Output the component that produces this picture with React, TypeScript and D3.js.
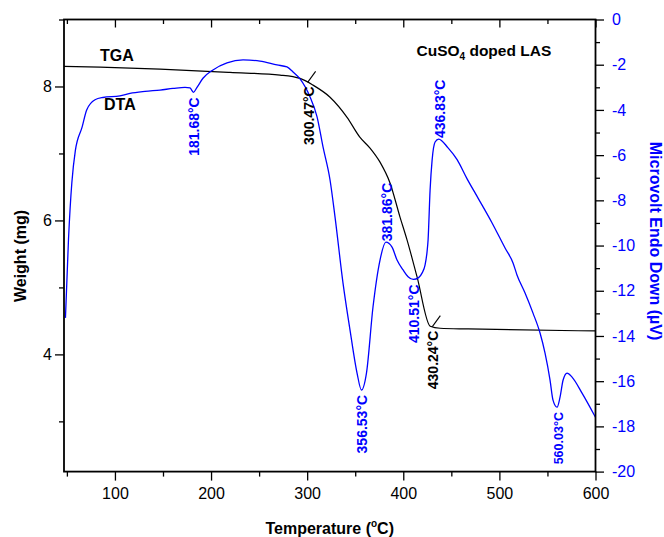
import { useEffect, useRef } from "react";
import * as d3 from "d3";

// DTA curve (microvolt, right axis)
const dtaTemp = [
  48.5, 51.7, 55.2, 58.8, 65.9, 70.6, 79.3, 87.6, 105.2, 115.7, 131.3, 146.9,
  160.4, 172.9, 178.1, 181.7, 185.4, 191.6, 202.0, 216.6, 233.3, 250.9, 268.6,
  279.0, 285.3, 292.6, 303.0, 310.3, 316.5, 323.8, 329.0, 337.3, 344.6, 351.9,
  356.5, 361.7, 368.5, 375.8, 381.9, 388.3, 393.5, 399.8, 405.0, 410.5, 416.0,
  419.5, 422.7, 424.7, 425.8, 427.9, 430.0, 433.1, 436.8, 446.6, 456.0, 466.4,
  477.8, 492.4, 505.9, 514.2, 518.4, 526.7, 535.0, 542.3, 547.5, 552.7, 555.8,
  560.0, 563.1, 566.3, 570.4, 575.6, 586.0, 600.0,
];
const dtaSignal = [
  -13.2, -9.7, -7.2, -5.8, -4.75, -4.0, -3.55, -3.45, -3.38, -3.27, -3.18, -3.12,
  -3.05, -3.0, -3.03, -3.22, -3.0, -2.6, -2.23, -1.92, -1.79, -1.84, -2.01,
  -2.1, -2.32, -2.63, -3.43, -4.31, -5.64, -7.1, -8.74, -11.66, -13.74, -15.64,
  -16.39, -15.64, -12.72, -10.64, -9.85, -10.07, -10.64, -11.08, -11.38, -11.5,
  -11.42, -11.22, -10.86, -10.29, -9.76, -7.54, -6.22, -5.42, -5.29, -5.68,
  -6.2, -7.05, -7.9, -9.0, -10.11, -10.77, -11.31, -12.1, -12.99, -13.87,
  -14.76, -15.95, -16.84, -17.15, -16.71, -15.95, -15.64, -15.82, -16.53, -17.6,
];

// TGA curve (mg, left axis)
const tgaTemp = [
  47, 84.5, 146.9, 219.7, 271.8, 292.6, 306.1, 323.8, 341.5, 355.0, 365.4,
  375.8, 386.2, 396.6, 403.9, 414.3, 428.0, 438.3, 467.4, 600,
];
const tgaWeight = [
  8.3, 8.29, 8.26, 8.21, 8.17, 8.12, 8.02, 7.84, 7.54, 7.24, 7.08, 6.87, 6.56,
  6.05, 5.71, 5.16, 4.42, 4.39, 4.38, 4.35,
];

const tempTicks = [100, 200, 300, 400, 500, 600];
const tempMinor = [50, 150, 250, 350, 450, 550];
const weightTicks = [4, 6, 8];
const weightMinor = [3, 5, 7, 9];
const signalTicks = [0, -2, -4, -6, -8, -10, -12, -14, -16, -18, -20];
const signalMinor = [-1, -3, -5, -7, -9, -11, -13, -15, -17, -19];

// DTA peaks and which side of the curve their label sits
const peakTemps = [181.68, 356.53, 381.86, 410.51, 436.83, 560.03];
const peakSide = ["below", "below", "above", "below", "above", "below"];
// TGA onset points
const onsetTemps = [300.47, 430.24];

function interp(xs: number[], ys: number[], t: number) {
  const i = d3.bisectLeft(xs, t);
  if (i <= 0) return ys[0];
  if (i >= xs.length) return ys[ys.length - 1];
  const f = (t - xs[i - 1]) / (xs[i] - xs[i - 1]);
  return ys[i - 1] + f * (ys[i] - ys[i - 1]);
}

export default function App() {
  const ref = useRef<SVGSVGElement>(null);

  useEffect(() => {
    if (!ref.current) return;
    const svg = d3.select(ref.current);
    svg.selectAll("*").remove();

    const width = 664,
      height = 537;
    const left = 64,
      right = 595.5,
      top = 19.5,
      bottom = 471.6;
    const font = "'Liberation Sans', Arial, Helvetica, sans-serif";
    const blue = "#0000ff";

    svg.attr("width", width).attr("height", height);

    const x = d3.scaleLinear().domain([47, 600]).range([left, right]);
    const yW = d3.scaleLinear().domain([2.25, 9]).range([bottom, top]);
    const yV = d3.scaleLinear().domain([-20, 0]).range([bottom, top]);

    const styleAxis = (g: any, color = "#000") => {
      g.select(".domain").remove();
      g.selectAll("line").attr("stroke", "#000").attr("stroke-width", 1.3);
      g.selectAll("text")
        .attr("font-family", font)
        .attr("font-size", 16)
        .attr("fill", color);
    };
    const noLabel = () => "";
    const plain = (d: any) => String(d);

    // bottom axis
    svg
      .append("g")
      .attr("transform", `translate(0,${bottom})`)
      .call(d3.axisBottom(x).tickValues(tempTicks).tickSize(9).tickPadding(7).tickFormat(plain))
      .call(styleAxis);
    svg
      .append("g")
      .attr("transform", `translate(0,${bottom})`)
      .call(d3.axisBottom(x).tickValues(tempMinor).tickSize(5).tickFormat(noLabel))
      .call(styleAxis);

    // top axis, ticks pointing inward
    svg
      .append("g")
      .attr("transform", `translate(0,${top})`)
      .call(d3.axisTop(x).tickValues(tempTicks).tickSize(-8).tickFormat(noLabel))
      .call(styleAxis);
    svg
      .append("g")
      .attr("transform", `translate(0,${top})`)
      .call(d3.axisTop(x).tickValues(tempMinor).tickSize(-4.5).tickFormat(noLabel))
      .call(styleAxis);

    // left axis (weight)
    svg
      .append("g")
      .attr("transform", `translate(${left},0)`)
      .call(d3.axisLeft(yW).tickValues(weightTicks).tickSize(9).tickPadding(3).tickFormat(plain))
      .call(styleAxis);
    svg
      .append("g")
      .attr("transform", `translate(${left},0)`)
      .call(d3.axisLeft(yW).tickValues(weightMinor).tickSize(5).tickFormat(noLabel))
      .call(styleAxis);

    // right axis (microvolt)
    svg
      .append("g")
      .attr("transform", `translate(${right},0)`)
      .call(
        d3
          .axisRight(yV)
          .tickValues(signalTicks)
          .tickSize(8.5)
          .tickPadding(8)
          .tickFormat(plain)
      )
      .call((g: any) => styleAxis(g, blue));
    svg
      .append("g")
      .attr("transform", `translate(${right},0)`)
      .call(d3.axisRight(yV).tickValues(signalMinor).tickSize(4.5).tickFormat(noLabel))
      .call(styleAxis);

    // clip for curves
    svg
      .append("defs")
      .append("clipPath")
      .attr("id", "plotClip")
      .append("rect")
      .attr("x", left)
      .attr("y", top)
      .attr("width", right - left)
      .attr("height", bottom - top);

    const tgaLine = d3
      .line<number>()
      .x((d, i) => x(tgaTemp[i]))
      .y((d) => yW(d))
      .curve(d3.curveMonotoneX);
    const dtaLine = d3
      .line<number>()
      .x((d, i) => x(dtaTemp[i]))
      .y((d) => yV(d))
      .curve(d3.curveMonotoneX);

    const plot = svg.append("g").attr("clip-path", "url(#plotClip)");
    plot
      .append("path")
      .attr("d", tgaLine(tgaWeight))
      .attr("fill", "none")
      .attr("stroke", "#000")
      .attr("stroke-width", 1.2);
    plot
      .append("path")
      .attr("d", dtaLine(dtaSignal))
      .attr("fill", "none")
      .attr("stroke", blue)
      .attr("stroke-width", 1.3);

    // onset markers on the TGA curve
    onsetTemps.forEach((t) => {
      const px = x(t);
      const py = yW(interp(tgaTemp, tgaWeight, t));
      svg
        .append("line")
        .attr("x1", px)
        .attr("y1", py)
        .attr("x2", px + 8)
        .attr("y2", py - 11)
        .attr("stroke", "#000")
        .attr("stroke-width", 1.1);
      svg
        .append("text")
        .attr("transform", `translate(${px + 6},${py + 4}) rotate(-90)`)
        .attr("text-anchor", "end")
        .attr("font-family", font)
        .attr("font-size", 14)
        .attr("font-weight", "bold")
        .attr("fill", "#000")
        .text(`${t.toFixed(2)}°C`);
    });

    // DTA peak labels
    peakTemps.forEach((t, i) => {
      const px = x(t);
      const py = yV(interp(dtaTemp, dtaSignal, t));
      const below = peakSide[i] === "below";
      svg
        .append("text")
        .attr(
          "transform",
          `translate(${px + 6},${below ? py + 5 : py - 1}) rotate(-90)`
        )
        .attr("text-anchor", below ? "end" : "start")
        .attr("font-family", font)
        .attr("font-size", t > 550 ? 12.5 : 14)
        .attr("font-weight", "bold")
        .attr("fill", blue)
        .text(`${t.toFixed(2)}°C`);
    });

    // frame
    svg
      .append("rect")
      .attr("x", left)
      .attr("y", top)
      .attr("width", right - left)
      .attr("height", bottom - top)
      .attr("fill", "none")
      .attr("stroke", "#000")
      .attr("stroke-width", 1.8);

    // curve names and sample name
    const bold = (sel: any, size: number) =>
      sel
        .attr("font-family", font)
        .attr("font-size", size)
        .attr("font-weight", "bold");

    svg.append("text").attr("x", 100).attr("y", 60.5).text("TGA").call(bold, 16);
    svg.append("text").attr("x", 104).attr("y", 110).text("DTA").call(bold, 16);

    const sample = svg
      .append("text")
      .attr("x", 416.5)
      .attr("y", 56)
      .call(bold, 15.5);
    sample.append("tspan").text("CuSO");
    sample.append("tspan").attr("font-size", 10).attr("dy", 4).text("4");
    sample.append("tspan").attr("dy", -4).text(" doped LAS");

    // axis titles
    svg
      .append("text")
      .attr("transform", `translate(25.5,256) rotate(-90)`)
      .attr("text-anchor", "middle")
      .call(bold, 16)
      .text("Weight (mg)");

    svg
      .append("text")
      .attr("transform", `translate(650,241) rotate(90)`)
      .attr("text-anchor", "middle")
      .attr("fill", blue)
      .call(bold, 16)
      .text("Microvolt Endo Down (µV)");

    const xt = svg
      .append("text")
      .attr("x", (left + right) / 2)
      .attr("y", 534)
      .attr("text-anchor", "middle")
      .call(bold, 16);
    xt.append("tspan").text("Temperature (");
    xt.append("tspan").attr("font-size", 10).attr("dy", -7).text("o");
    xt.append("tspan").attr("dy", 7).text("C)");
  }, []);

  return (
    <svg
      ref={ref}
      style={{ position: "absolute", left: 0, top: 0, background: "#fff" }}
    />
  );
}
